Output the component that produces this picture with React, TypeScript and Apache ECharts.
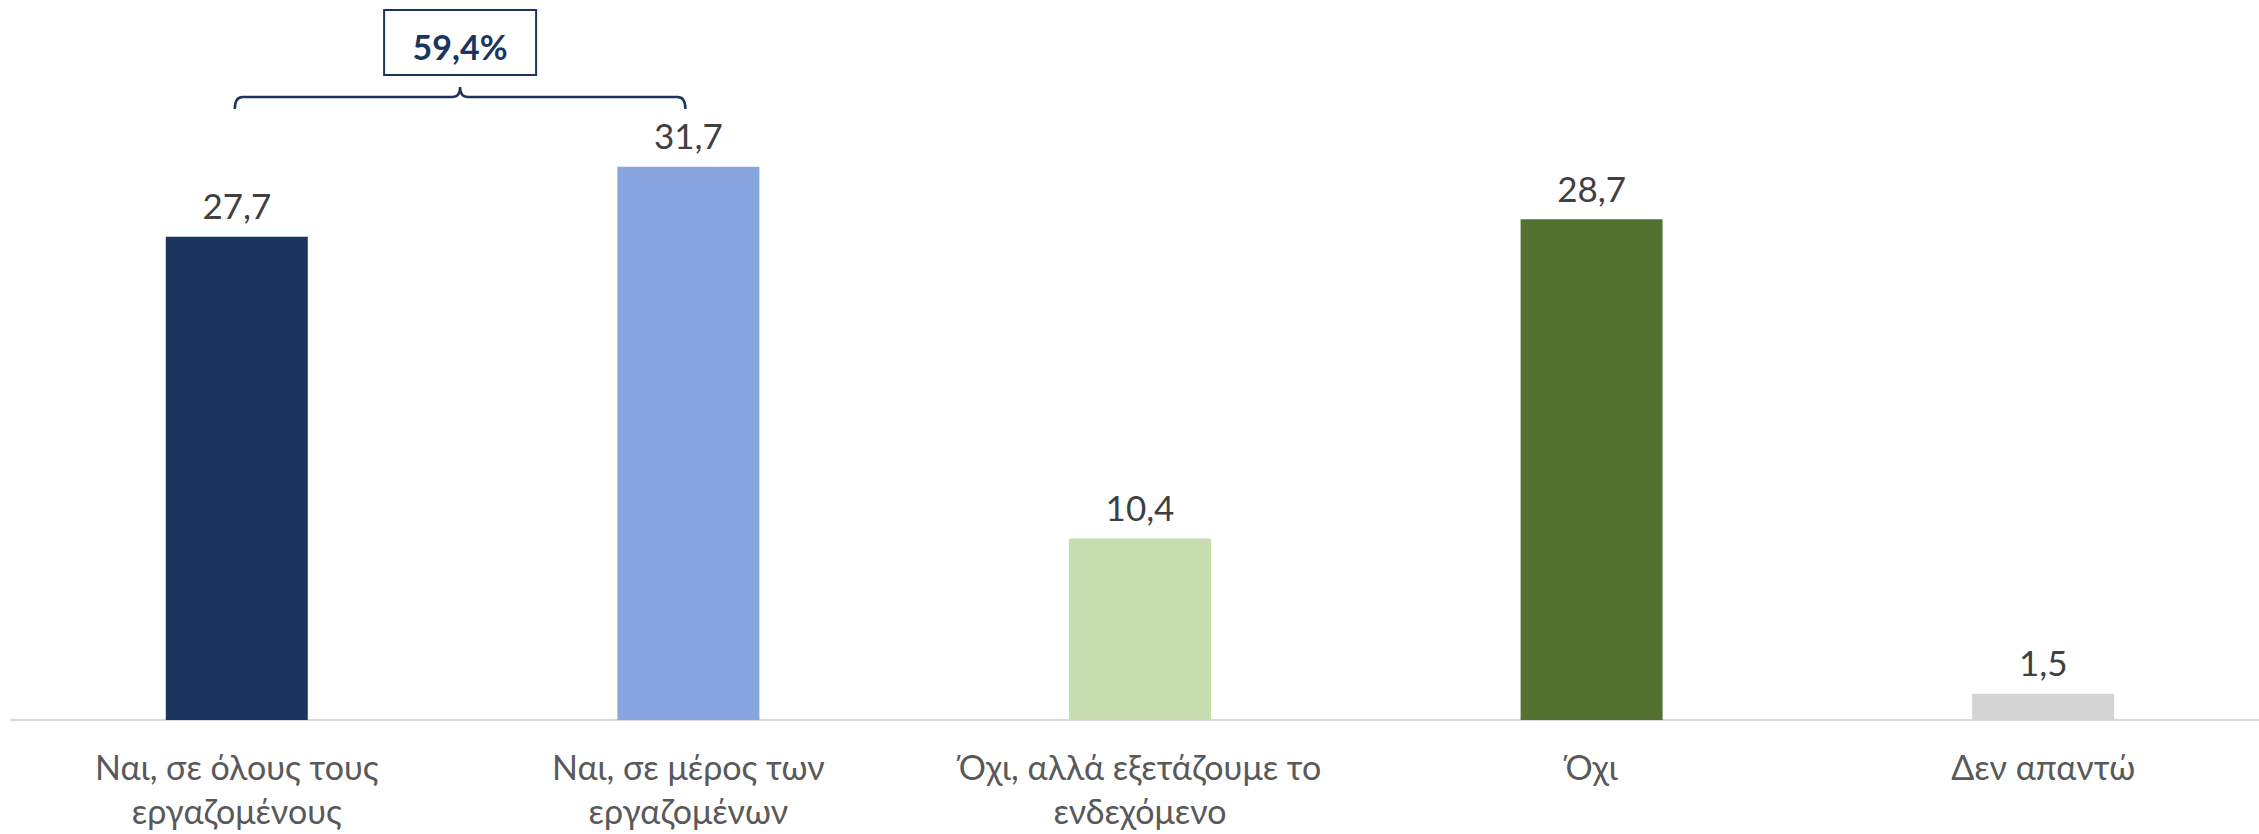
import React, { useEffect, useRef } from "react";
import * as echarts from "echarts";

const categories = [
  "Ναι, σε όλους τους\nεργαζομένους",
  "Ναι, σε μέρος των\nεργαζομένων",
  "Όχι, αλλά εξετάζουμε το\nενδεχόμενο",
  "Όχι",
  "Δεν απαντώ",
];
const values = [27.7, 31.7, 10.4, 28.7, 1.5];
const barColors = ["#1c355e", "#87a5df", "#c7ddb0", "#537231", "#d4d4d4"];
const bracketGroup = [0, 1];

const FONT = "Lato, 'Noto Sans', sans-serif";
const fmt = (v: number) => v.toFixed(1).replace(".", ",");

export default function App() {
  const ref = useRef<HTMLDivElement>(null);
  useEffect(() => {
    if (!ref.current) return;
    const chart = echarts.init(ref.current, null, { renderer: "svg" });
    const option: any = {
      animation: false,
      backgroundColor: "#ffffff",
      grid: { left: 11, right: 0, top: 22, bottom: 114, containLabel: false },
      xAxis: {
        type: "category",
        data: categories,
        axisLine: { show: true, lineStyle: { color: "#d9d9d9", width: 2 } },
        axisTick: { show: false },
        axisLabel: {
          margin: 24,
          fontFamily: FONT,
          fontSize: 34,
          lineHeight: 44,
          color: "#595959",
          interval: 0,
        },
      },
      yAxis: {
        type: "value",
        min: 0,
        max: 40,
        show: false,
        splitLine: { show: false },
      },
      series: [
        {
          type: "bar",
          barWidth: 142,
          data: values.map((v, i) => ({ value: v, itemStyle: { color: barColors[i] } })),
          label: {
            show: true,
            position: "top",
            distance: 14,
            fontFamily: FONT,
            fontSize: 35,
            color: "#404040",
            formatter: (p: any) => fmt(p.value),
          },
        },
      ],
    };
    chart.setOption(option);

    // bracket annotation computed from the axis
    const [i0, i1] = bracketGroup;
    const x0 = chart.convertToPixel({ gridIndex: 0 }, [i0, 0])[0] - 2;
    const x1 = chart.convertToPixel({ gridIndex: 0 }, [i1, 0])[0] - 3;
    const xm = (x0 + x1) / 2;
    const yLine = 97;
    const r = 8;
    const w = x1 - x0;
    const m = xm - x0;
    const d =
      `M0 ${12} Q0 0 ${r} 0 L${m - r} 0 Q${m} 0 ${m} ${-10} Q${m} 0 ${m + r} 0 ` +
      `L${w - r} 0 Q${w} 0 ${w} 12`;
    echarts.graphic.registerShape("brace", echarts.graphic.extendPath(d, {}) as any);
    const total = bracketGroup.reduce((s, i) => s + values[i], 0);
    chart.setOption({
      graphic: [
        {
          type: "brace",
          x: x0,
          y: yLine,
          style: { fill: "none", stroke: "#1c355e", lineWidth: 2.5 },
          silent: true,
        },
        {
          type: "rect",
          shape: { x: xm - 76, y: 10, width: 152, height: 65 },
          style: { fill: "#ffffff", stroke: "#1c355e", lineWidth: 2 },
          silent: true,
        },
        {
          type: "text",
          x: xm,
          y: 46,
          style: {
            text: fmt(total) + "%",
            fontFamily: FONT,
            fontWeight: "bold",
            fontSize: 34,
            fill: "#1c355e",
            align: "center",
            verticalAlign: "middle",
          },
          silent: true,
        },
      ],
    });
    return () => chart.dispose();
  }, []);
  return (
    <div
      style={{
        position: "absolute",
        left: 0,
        top: 0,
        width: 2259,
        height: 834,
        overflow: "hidden",
        background: "#ffffff",
      }}
    >
      <div ref={ref} style={{ width: 2269, height: 834 }} />
    </div>
  );
}
